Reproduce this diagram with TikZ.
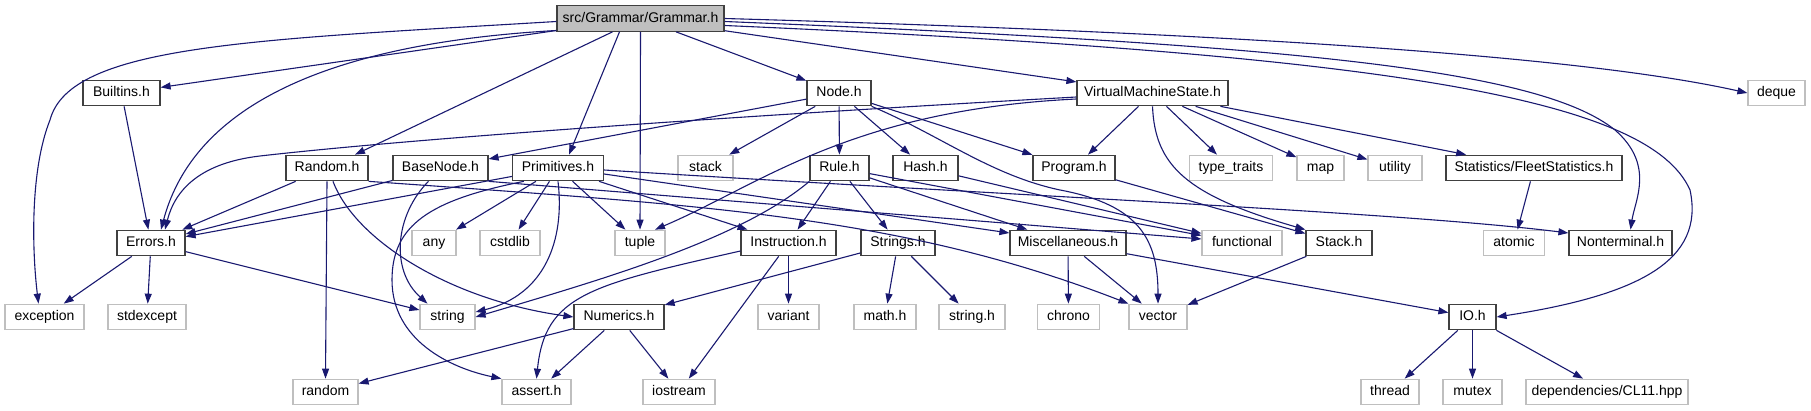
\documentclass[tikz,border=0pt]{standalone}
\usepackage{fontspec}
\setmainfont{Liberation Sans}
\usetikzlibrary{arrows.meta}
\usepackage{xcolor}
\definecolor{edgeblue}{HTML}{191970}
\definecolor{boxgrey}{HTML}{BFBFBF}
\definecolor{boxdark}{HTML}{404040}

\begin{document}
\begin{tikzpicture}[x=1pt, y=-1pt, >={Triangle[length=10pt,width=7pt]},
  hdr/.style={rectangle, draw=boxdark, line width=1.2pt, minimum height=25.5pt, inner sep=0pt,
    text height=10pt, text depth=2.9pt, font=\fontsize{14}{16}\selectfont, fill=white},
  sys/.style={hdr, draw=boxgrey},
  root/.style={hdr, fill=boxgrey},
  inc/.style={->, line width=1.1pt, draw=edgeblue}
]
\useasboundingbox (0,0) rectangle (1811,411);
\node[root, minimum width=167pt] (grammarh) at (640.5,18.5) {src/Grammar/Grammar.h};
\node[hdr, minimum width=77pt] (builtinsh) at (121.5,93) {Builtins.h};
\node[hdr, minimum width=64pt] (nodeh) at (839,93) {Node.h};
\node[hdr, minimum width=151pt] (vmsh) at (1152.5,93) {VirtualMachineState.h};
\node[sys, minimum width=57pt] (deque) at (1776.5,93) {deque};
\node[hdr, minimum width=82pt] (randomh) at (327,168) {Random.h};
\node[hdr, minimum width=95pt] (basenodeh) at (440.5,168) {BaseNode.h};
\node[hdr, minimum width=91pt] (primitivesh) at (558,168) {Primitives.h};
\node[sys, minimum width=55pt] (stack) at (705.5,168) {stack};
\node[hdr, minimum width=59pt] (ruleh) at (839.5,168) {Rule.h};
\node[hdr, minimum width=65pt] (hashh) at (925.5,168) {Hash.h};
\node[hdr, minimum width=82pt] (programh) at (1074,168) {Program.h};
\node[sys, minimum width=83pt] (typetraits) at (1231,168) {type\_traits};
\node[sys, minimum width=47pt] (map) at (1320.5,168) {map};
\node[sys, minimum width=54pt] (utility) at (1395,168) {utility};
\node[hdr, minimum width=176pt] (fleeth) at (1534,168) {Statistics/FleetStatistics.h};
\node[hdr, minimum width=68pt] (errorsh) at (151,243) {Errors.h};
\node[sys, minimum width=44pt] (any) at (434,243) {any};
\node[sys, minimum width=60pt] (cstdlib) at (510,243) {cstdlib};
\node[sys, minimum width=50pt] (tuple) at (640,243) {tuple};
\node[hdr, minimum width=95pt] (instructionh) at (788.5,243) {Instruction.h};
\node[hdr, minimum width=74pt] (stringsh) at (898,243) {Strings.h};
\node[hdr, minimum width=116pt] (misch) at (1068,243) {Miscellaneous.h};
\node[sys, minimum width=80pt] (functional) at (1242,243) {functional};
\node[hdr, minimum width=66pt] (stackh) at (1339,243) {Stack.h};
\node[sys, minimum width=61pt] (atomic) at (1514,243) {atomic};
\node[hdr, minimum width=103pt] (nonterminalh) at (1620.5,243) {Nonterminal.h};
\node[sys, minimum width=79pt] (exception) at (44.5,317) {exception};
\node[sys, minimum width=78pt] (stdexcept) at (147,317) {stdexcept};
\node[sys, minimum width=55pt] (string) at (447.5,317) {string};
\node[hdr, minimum width=90pt] (numericsh) at (619,317) {Numerics.h};
\node[sys, minimum width=61pt] (variant) at (788.5,317) {variant};
\node[sys, minimum width=62pt] (mathh) at (885,317) {math.h};
\node[sys, minimum width=66pt] (stringh) at (972,317) {string.h};
\node[sys, minimum width=62pt] (chrono) at (1068.5,317) {chrono};
\node[sys, minimum width=58pt] (vector) at (1158,317) {vector};
\node[hdr, minimum width=47pt] (ioh) at (1472.5,317) {IO.h};
\node[sys, minimum width=65pt] (random) at (325.5,392) {random};
\node[sys, minimum width=69pt] (asserth) at (536.5,392) {assert.h};
\node[sys, minimum width=72pt] (iostream) at (679,392) {iostream};
\node[sys, minimum width=58pt] (thread) at (1390,392) {thread};
\node[sys, minimum width=59pt] (mutex) at (1472.5,392) {mutex};
\node[sys, minimum width=162pt] (clhpp) at (1607,392) {dependencies/CL11.hpp};
\draw[inc] ([yshift=-3pt]grammarh.west) .. controls (250,40) and (70,45) .. (50,120) .. controls (30,170) and (32,250) .. ([xshift=-6pt]exception.north);
\draw[inc] (grammarh) -- (builtinsh);
\draw[inc] ([yshift=-12pt]grammarh.west) .. controls (300,45) and (190,120) .. ([xshift=10pt]errorsh.north);
\draw[inc] (grammarh) -- (randomh);
\draw[inc] ([xshift=-21pt]grammarh.south) -- ([xshift=11pt]primitivesh.north);
\draw[inc] (grammarh.south) -- (tuple.north);
\draw[inc] (grammarh) -- (nodeh);
\draw[inc] (grammarh) -- (vmsh);
\draw[inc] (grammarh.east) .. controls (1300,35) and (1600,60) .. (deque.west);
\draw[inc] ([yshift=-3pt]grammarh.east) .. controls (1300,45) and (1540,70) .. (1615,130) .. controls (1655,165) and (1635,200) .. ([xshift=10pt]nonterminalh.north);
\draw[inc] ([yshift=-7pt]grammarh.east) .. controls (1400,55) and (1650,100) .. (1690,190) .. controls (1705,260) and (1640,295) .. (ioh.east);
\draw[inc] (builtinsh) -- (errorsh);
\draw[inc] (nodeh) -- (basenodeh);
\draw[inc] (nodeh) -- (stack);
\draw[inc] (nodeh) -- (ruleh);
\draw[inc] (nodeh) -- (hashh);
\draw[inc] (nodeh) -- (programh);
\draw[inc] (nodeh.south east) .. controls (940,135) and (990,175) .. (1060,190) .. controls (1140,205) and (1158,240) .. (vector.north);
\draw[inc] ([yshift=-4pt]vmsh.west) .. controls (700,118) and (400,140) .. (260,156) .. controls (200,163) and (175,190) .. ([xshift=14pt]errorsh.north);
\draw[inc] ([yshift=-6pt]vmsh.west) .. controls (850,110) and (760,185) .. ([xshift=15pt]tuple.north);
\draw[inc] (vmsh) -- (programh);
\draw[inc] (vmsh) -- (typetraits);
\draw[inc] (vmsh) -- (map);
\draw[inc] (vmsh) -- (utility);
\draw[inc] (vmsh) -- (fleeth);
\draw[inc] (vmsh.south) .. controls (1155,165) and (1185,195) .. (stackh.north west);
\draw[inc] (randomh) -- (errorsh);
\draw[inc] (randomh.south) -- (random.north);
\draw[inc] ([xshift=6pt]randomh.south) .. controls (355,240) and (450,300) .. (numericsh.west);
\draw[inc] (randomh.south east) .. controls (700,205) and (900,215) .. (vector.north west);
\draw[inc] (basenodeh) -- (errorsh);
\draw[inc] ([xshift=-12pt]basenodeh.south) .. controls (395,215) and (390,270) .. ([xshift=-20pt]string.north);
\draw[inc] (basenodeh.south east) -- ([yshift=4pt]functional.west);
\draw[inc] (primitivesh) -- (errorsh);
\draw[inc] (primitivesh.south) .. controls (565,240) and (545,295) .. ([yshift=5pt]string.east);
\draw[inc] ([xshift=12pt]primitivesh.south west) .. controls (430,200) and (392,225) .. (392,280) .. controls (392,340) and (450,368) .. (asserth.north west);
\draw[inc] (primitivesh) -- (any);
\draw[inc] (primitivesh) -- (cstdlib);
\draw[inc] (primitivesh) -- (tuple);
\draw[inc] (primitivesh) -- (instructionh);
\draw[inc] ([yshift=-6pt]primitivesh.east) -- ([yshift=10pt]misch.west);
\draw[inc] ([yshift=-2pt]primitivesh.east) .. controls (1000,195) and (1400,212) .. ([yshift=10pt]nonterminalh.west);
\draw[inc] (ruleh) -- (instructionh);
\draw[inc] (ruleh) -- (stringsh);
\draw[inc] (ruleh) -- (misch);
\draw[inc] (ruleh) -- (functional);
\draw[inc] (ruleh.south west) .. controls (740,240) and (600,280) .. (string.east);
\draw[inc] (hashh) -- (functional);
\draw[inc] (programh) -- (stackh);
\draw[inc] (fleeth) -- (atomic);
\draw[inc] (errorsh) -- (exception);
\draw[inc] (errorsh) -- (stdexcept);
\draw[inc] (errorsh) -- (string);
\draw[inc] ([yshift=-8pt]instructionh.west) .. controls (590,285) and (545,295) .. (asserth.north);
\draw[inc] (instructionh) -- (variant);
\draw[inc] (instructionh) -- (iostream);
\draw[inc] (stringsh) -- (numericsh);
\draw[inc] (stringsh) -- (mathh);
\draw[inc] (stringsh) -- (stringh);
\draw[inc] (misch) -- (chrono);
\draw[inc] (misch) -- (vector);
\draw[inc] (misch) -- (ioh);
\draw[inc] (stackh) -- (vector);
\draw[inc] (numericsh) -- (random);
\draw[inc] (numericsh) -- (asserth);
\draw[inc] (numericsh) -- (iostream);
\draw[inc] (ioh) -- (thread);
\draw[inc] (ioh) -- (mutex);
\draw[inc] (ioh) -- (clhpp);
\end{tikzpicture}
\end{document}
